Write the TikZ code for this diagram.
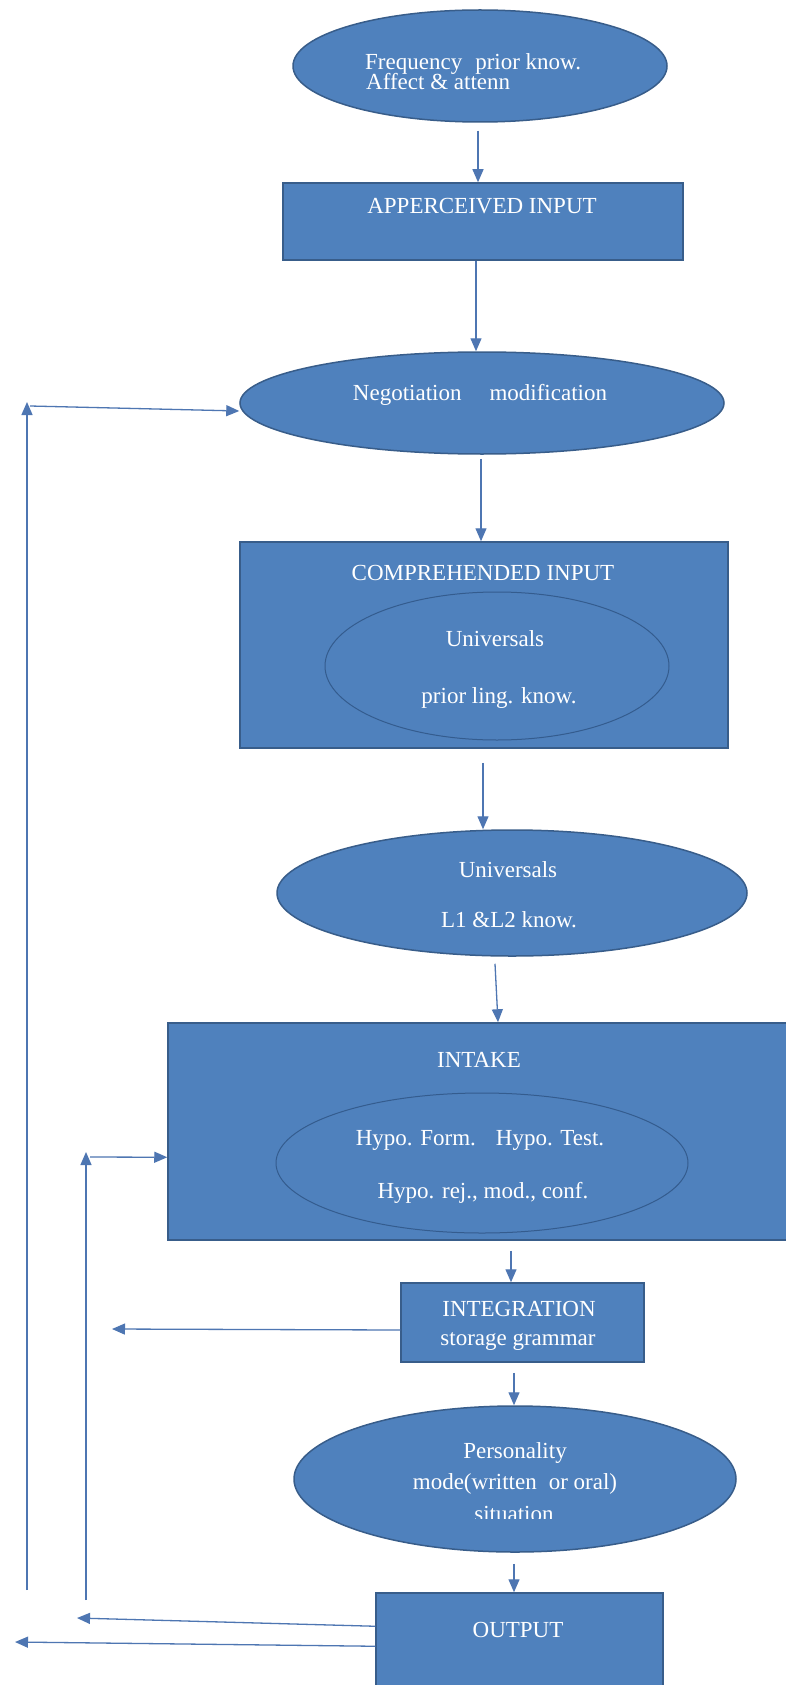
\documentclass[tikz,border=0pt]{standalone}
\usepackage{fontspec}
\setmainfont{Liberation Serif}
\usetikzlibrary{arrows.meta,shapes.geometric,calc}
\definecolor{fillblue}{RGB}{79,129,189}
\definecolor{edgeblue}{RGB}{56,93,138}
\definecolor{inneredge}{RGB}{52,92,142}
\definecolor{linkblue}{RGB}{78,118,178}
\begin{document}
\begin{tikzpicture}[x=1pt,y=-1pt,
  boxshape/.style={rectangle,draw=edgeblue,line width=1.5pt,fill=fillblue,inner sep=0pt},
  ellshape/.style={ellipse,draw=edgeblue,line width=1.5pt,fill=fillblue,inner sep=0pt},
  innerell/.style={ellipse,draw=inneredge,line width=1pt,fill=fillblue,inner sep=0pt},
  lbl/.style={text=white,font=\fontsize{23}{26}\selectfont,anchor=base,inner sep=0pt},
  conn/.style={draw=linkblue,line width=1.3pt,-{Triangle[length=13pt,width=11pt]}},
  plainline/.style={draw=linkblue,line width=1.3pt}]
\useasboundingbox (0,0) rectangle (786,1685);
\fill[white] (0,0) rectangle (786,1685);

% shapes
\node[ellshape,minimum width=374pt,minimum height=112pt] (E1) at (480,66) {};
\node[boxshape,minimum width=400pt,minimum height=77pt] (R1) at (483,221.5) {};
\node[ellshape,minimum width=484pt,minimum height=102pt] (E2) at (482,403) {};
\node[boxshape,minimum width=488pt,minimum height=206pt] (R2) at (484,645) {};
\node[innerell,minimum width=344pt,minimum height=148pt] (IE2) at (497,666) {};
\node[ellshape,minimum width=470pt,minimum height=126pt] (E3) at (512,893) {};
\node[boxshape,minimum width=622pt,minimum height=217pt] (R3) at (479,1131.5) {};
\node[innerell,minimum width=412pt,minimum height=140pt] (IE3) at (482,1163) {};
\node[boxshape,minimum width=243pt,minimum height=79pt] (R4) at (522.5,1322.5) {};
\node[ellshape,minimum width=442pt,minimum height=146pt] (E4) at (515,1479) {};
\node[boxshape,minimum width=287pt,minimum height=107pt] (R5) at (519.5,1646.5) {};

% texts
\node[lbl,anchor=base west] (t1a) at (365,70) {Frequency\hspace{13pt}prior know.};
\node[lbl,anchor=base west] (t1b) at (366,90) {Affect \& attenn};
\node[lbl] (t2) at (482,214) {APPERCEIVED INPUT};
\node[lbl] (t3) at (480,400) {Negotiation\hspace{28pt}modification};
\node[lbl] (t4) at (483,580) {COMPREHENDED INPUT};
\node[lbl] (t4a) at (495,646) {Universals};
\node[lbl] (t4b) at (499,703) {prior ling. know.};
\node[lbl] (t5a) at (508,877) {Universals};
\node[lbl] (t5b) at (509,927) {L1 \&L2 know.};
\node[lbl] (t6) at (479,1067) {INTAKE};
\node[lbl] (t6a) at (480,1145) {Hypo. Form.\hspace{20pt}Hypo. Test.};
\node[lbl] (t6b) at (483,1198) {Hypo. rej., mod., conf.};
\node[lbl] (t7a) at (519,1316) {INTEGRATION};
\node[lbl] (t7b) at (518,1345) {storage grammar};
\node[lbl] (t8a) at (515,1458) {Personality};
\node[lbl] (t8b) at (515,1489) {mode(written\hspace{12pt}or oral)};
\begin{scope}
\clip (300,1490) rectangle (730,1518);
\node[lbl] (t8c) at (514,1521) {situation};
\end{scope}
\node[lbl] (t9) at (518,1637) {OUTPUT};

% main flow
\draw[conn] ([xshift=-2pt,yshift=-8pt]E1.south) -- ([xshift=-5pt]R1.north);
\draw[conn] ([xshift=-7pt]R1.south) -- ([xshift=-6pt]E2.north);
\draw[conn] ([xshift=-1pt,yshift=-4pt]E2.south) -- ([xshift=-3pt]R2.north);
\draw[conn] ([xshift=-1pt,yshift=-14pt]R2.south) -- ([xshift=-29pt]E3.north);
\draw[conn] ([xshift=-17pt,yshift=-7pt]E3.south) -- ([xshift=19pt]R3.north);
\draw[conn] ([xshift=32pt,yshift=-10pt]R3.south) -- ([xshift=-11.5pt]R4.north);
\draw[conn] ([xshift=-8.5pt,yshift=-10pt]R4.south) -- ([xshift=-1pt]E4.north);
\draw[conn] ([xshift=-1pt,yshift=-11pt]E4.south) -- ([xshift=-5.5pt]R5.north);

% feedback loops
\coordinate (o1b) at (27,1590);
\coordinate (o1t) at (27,402);
\coordinate (o1h) at (30,406);
\coordinate (i1b) at (86,1600);
\coordinate (i1t) at (86,1152);
\coordinate (i1h) at (90,1157);
\coordinate (intl) at (112,1329);
\coordinate (outa) at (77,1618);
\coordinate (outb) at (15,1642);

\draw[conn] (o1b) -- (o1t);
\draw[conn] (o1h) -- ([yshift=-8pt]E2.west);
\draw[conn] (i1b) -- (i1t);
\draw[conn] (i1h) -- ([yshift=-135pt]R3.north west);
\draw[conn] ([yshift=-7.5pt]R4.west) -- (intl);
\draw[conn] ([yshift=-34pt]R5.north west) -- (outa);
\draw[conn] ([yshift=-54pt]R5.north west) -- (outb);
\end{tikzpicture}
\end{document}
